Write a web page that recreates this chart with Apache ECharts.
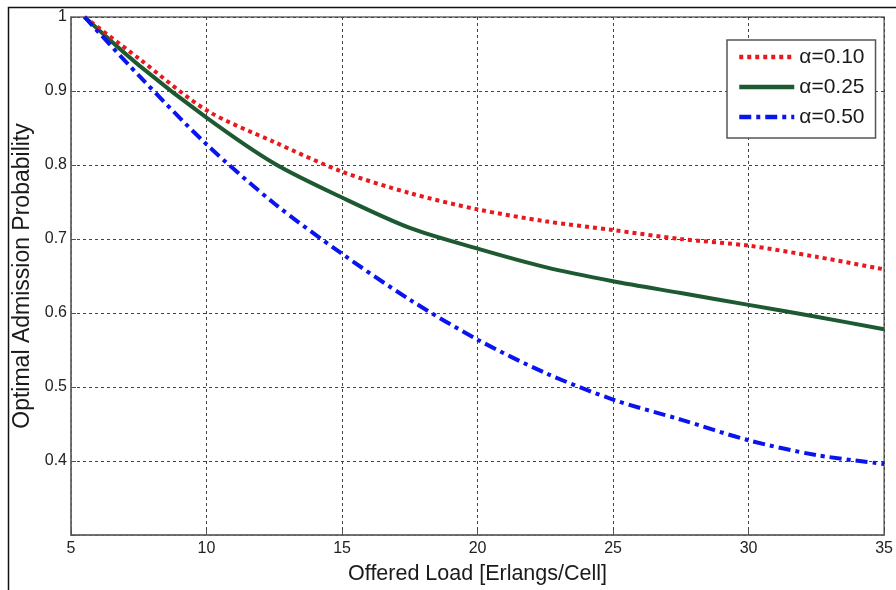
<!DOCTYPE html>
<html>
<head>
<meta charset="utf-8">
<script src="https://cdn.jsdelivr.net/npm/echarts@6/dist/echarts.min.js"></script>
<style>
html,body{margin:0;padding:0;background:#fff;}
#c{width:896px;height:590px;}
</style>
</head>
<body>
<div id="c"></div>
<script>
const loads = [5.5, 7.5, 10, 12.5, 15, 17.5, 20, 22.5, 25, 27.5, 30, 32.5, 35];
const alpha010 = [1.0, 0.944, 0.874, 0.831, 0.791, 0.762, 0.740, 0.724, 0.712, 0.700, 0.691, 0.676, 0.659];
const alpha025 = [1.0, 0.935, 0.864, 0.802, 0.756, 0.715, 0.687, 0.662, 0.643, 0.627, 0.611, 0.595, 0.578];
const alpha050 = [1.0, 0.921, 0.828, 0.748, 0.680, 0.618, 0.564, 0.519, 0.483, 0.456, 0.428, 0.408, 0.396];
const seriesNames = ['α=0.10', 'α=0.25', 'α=0.50'];
const xTitle = 'Offered Load [Erlangs/Cell]';
const yTitle = 'Optimal Admission Probability';

const pair = (ys) => loads.map((x, i) => [x, ys[i]]);
const font = 'Liberation Sans, Arial, Helvetica, sans-serif';

const chart = echarts.init(document.getElementById('c'), null, {renderer: 'canvas'});
chart.setOption({
  animation: false,
  backgroundColor: '#fff',
  graphic: [{
    type: 'rect', z: -10,
    shape: {x: 8.5, y: 7.5, width: 900, height: 600},
    style: {fill: 'none', stroke: '#111', lineWidth: 1.5}
  }],
  grid: {
    left: 71, right: 3, top: 17, bottom: 53,
    show: true, borderColor: '#6a6a6a', borderWidth: 1.5, backgroundColor: '#fff'
  },
  xAxis: {
    type: 'value', min: 5, max: 35, interval: 5,
    name: xTitle, nameLocation: 'middle', nameGap: 28,
    nameTextStyle: {fontFamily: font, fontSize: 21.5, color: '#1a1a1a'},
    axisLine: {show: true, lineStyle: {color: '#6a6a6a', width: 1.5}},
    axisTick: {show: true, inside: true, length: 5, lineStyle: {color: '#555'}},
    axisLabel: {fontFamily: font, fontSize: 16, color: '#222', margin: 6, showMaxLabel: true},
    splitLine: {show: true, lineStyle: {color: '#444', type: [3, 3], width: 1}}
  },
  yAxis: {
    type: 'value', min: 0.3, max: 1, interval: 0.1,
    name: yTitle, nameLocation: 'middle', nameGap: 37,
    nameTextStyle: {fontFamily: font, fontSize: 23, color: '#1a1a1a'},
    axisLine: {show: true, lineStyle: {color: '#6a6a6a', width: 1.5}},
    axisTick: {show: true, inside: true, length: 5, lineStyle: {color: '#555'}},
    axisLabel: {
      fontFamily: font, fontSize: 16, color: '#222', margin: 4,
      formatter: v => Math.abs(v - 0.3) < 1e-6 ? '' : String(+v.toFixed(1))
    },
    splitLine: {show: true, lineStyle: {color: '#444', type: [3, 3], width: 1}}
  },
  legend: {
    orient: 'vertical', left: 727, top: 40,
    padding: [6.5, 11, 10.5, 10], itemGap: 9, itemWidth: 55, itemHeight: 14,
    backgroundColor: '#fff', borderColor: '#555', borderWidth: 1.5, borderRadius: 0,
    itemStyle: {opacity: 0},
    lineStyle: {width: 4.5},
    textStyle: {fontFamily: font, fontSize: 21, color: '#1a1a1a'},
    data: seriesNames
  },
  series: [
    {name: seriesNames[0], type: 'line', data: pair(alpha010), symbol: 'none', smooth: 0.3,
     lineStyle: {color: '#e8191e', width: 4, type: [4, 4]}, itemStyle: {color: '#e8191e'}, z: 3},
    {name: seriesNames[1], type: 'line', data: pair(alpha025), symbol: 'none', smooth: 0.3,
     lineStyle: {color: '#1d5a32', width: 4, type: 'solid'}, itemStyle: {color: '#1d5a32'}, z: 2},
    {name: seriesNames[2], type: 'line', data: pair(alpha050), symbol: 'none', smooth: 0.3,
     lineStyle: {color: '#0a14ee', width: 4, type: [12, 5, 4, 5]}, itemStyle: {color: '#0a14ee'}, z: 4}
  ]
});
</script>
</body>
</html>
